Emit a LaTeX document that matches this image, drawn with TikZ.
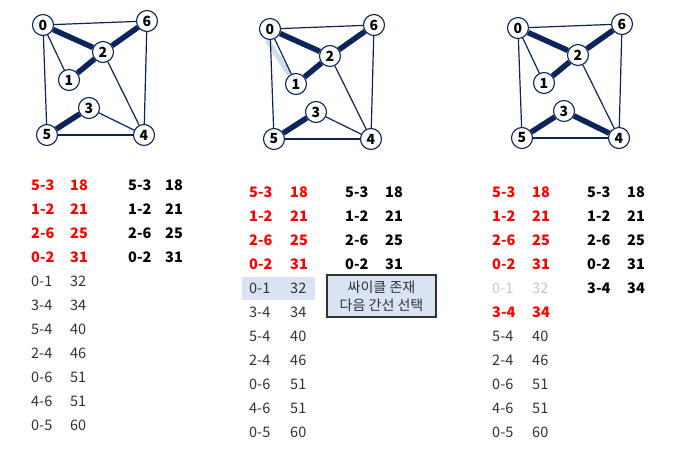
\documentclass[tikz,border=0pt]{standalone}
\usepackage{fontspec}
\setmainfont{Noto Sans CJK KR}
\definecolor{navy}{RGB}{12,36,90}
\definecolor{kred}{RGB}{255,0,0}
\definecolor{kgray}{RGB}{50,50,50}
\definecolor{klight}{RGB}{200,200,200}
\definecolor{kbox}{RGB}{218,227,243}
\definecolor{khl}{RGB}{205,220,238}
\tikzset{
 vtx/.style={circle, draw=navy, line width=1.1pt, fill=white, inner sep=0pt, minimum size=21pt, font=\bfseries\fontsize{14}{14}\selectfont},
 ethin/.style={draw=navy, line width=1.2pt},
 ethick/.style={draw=navy, line width=5.5pt},
 lst/.style={anchor=west, inner sep=0pt, text height=10pt, text depth=2pt, font=\fontsize{14.5}{16}\selectfont},
 redtxt/.style={lst, text=kred, font=\bfseries\fontsize{14.5}{16}\selectfont},
 blktxt/.style={lst, text=black, font=\bfseries\fontsize{14.5}{16}\selectfont},
 graytxt/.style={lst, text=kgray},
 lighttxt/.style={lst, text=klight},
}
\newcommand\graphat[3]{%
 \begin{scope}[shift={(#2,#3)}]
 \node[vtx] (#10) at (0,0) {0};
 \node[vtx] (#16) at (104,-4) {6};
 \node[vtx] (#12) at (60,27) {2};
 \node[vtx] (#11) at (26,55) {1};
 \node[vtx] (#13) at (46,83) {3};
 \node[vtx] (#15) at (4,110) {5};
 \node[vtx] (#14) at (101,110) {4};
 \end{scope}
 \draw[ethin] (#10) -- (#16);
 \draw[ethin] (#10) -- (#15);
 \draw[ethin] (#16) -- (#14);
 \draw[ethin] (#12) -- (#14);
 \draw[ethin] (#15) -- (#14);
 \draw[ethick] (#10) -- (#12);
 \draw[ethick] (#12) -- (#16);
 \draw[ethick] (#11) -- (#12);
 \draw[ethick] (#15) -- (#13);
}
\begin{document}
\begin{tikzpicture}[x=1pt,y=-1pt]
\useasboundingbox (0,0) rectangle (678,455);
% highlight of edge 0-1 in the second graph
\coordinate (hlA) at (267,40);
\coordinate (hlB) at (289,74);
\draw[khl, line width=5pt] (hlA) -- (hlB);
% graphs
\graphat{a}{43}{25}
\draw[ethin] (a0) -- (a1);
\draw[ethin] (a3) -- (a4);
\graphat{b}{270}{29}
\draw[ethin] (b0) -- (b1);
\draw[ethin] (b3) -- (b4);
\graphat{c}{518}{28}
\draw[ethin] (c0) -- (c1);
\draw[ethick] (c3) -- (c4);
% list 1
\foreach \e/\w [count=\i from 0] in {5-3/18,1-2/21,2-6/25,0-2/31}{
 \node[redtxt] (pe\i) at (31,186.5+24*\i) {\e};
 \node[redtxt] (pw\i) at (70,186.5+24*\i) {\w};
 \node[blktxt] (qe\i) at (128,186.5+24*\i) {\e};
 \node[blktxt] (qw\i) at (165,186.5+24*\i) {\w};
}
\foreach \e/\w [count=\i from 4] in {0-1/32,3-4/34,5-4/40,2-4/46,0-6/51,4-6/51,0-5/60}{
 \node[graytxt] (pe\i) at (31,186.5+24*\i) {\e};
 \node[graytxt] (pw\i) at (70,186.5+24*\i) {\w};
}
% list 2
\fill[kbox] (242,277) rectangle (315,300);
\foreach \e/\w [count=\i from 0] in {5-3/18,1-2/21,2-6/25,0-2/31}{
 \node[redtxt] (re\i) at (249,193+24*\i) {\e};
 \node[redtxt] (rw\i) at (290,193+24*\i) {\w};
 \node[blktxt] (se\i) at (345,193+24*\i) {\e};
 \node[blktxt] (sw\i) at (385,193+24*\i) {\w};
}
\foreach \e/\w [count=\i from 4] in {0-1/32,3-4/34,5-4/40,2-4/46,0-6/51,4-6/51,0-5/60}{
 \node[graytxt] (re\i) at (249,193+24*\i) {\e};
 \node[graytxt] (rw\i) at (290,193+24*\i) {\w};
}
\node[draw=kgray, line width=1.2pt, fill=kbox, minimum width=109pt, minimum height=42pt, inner sep=0pt, align=center, text=kgray, font=\fontsize{14}{18}\selectfont] (callout) at (381.5,296) {싸이클 존재\\다음 간선 선택};
% list 3
\foreach \e/\w [count=\i from 0] in {5-3/18,1-2/21,2-6/25,0-2/31}{
 \node[redtxt] (te\i) at (492,193+24*\i) {\e};
 \node[redtxt] (tw\i) at (532,193+24*\i) {\w};
 \node[blktxt] (ue\i) at (587,193+24*\i) {\e};
 \node[blktxt] (uw\i) at (627,193+24*\i) {\w};
}
\node[lighttxt] (te4) at (492,289) {0-1};
\node[lighttxt] (tw4) at (532,289) {32};
\node[redtxt] (te5) at (492,313) {3-4};
\node[redtxt] (tw5) at (532,313) {34};
\node[blktxt] (ue4) at (587,289) {3-4};
\node[blktxt] (uw4) at (627,289) {34};
\foreach \e/\w [count=\i from 6] in {5-4/40,2-4/46,0-6/51,4-6/51,0-5/60}{
 \node[graytxt] (te\i) at (492,193+24*\i) {\e};
 \node[graytxt] (tw\i) at (532,193+24*\i) {\w};
}
\end{tikzpicture}
\end{document}
